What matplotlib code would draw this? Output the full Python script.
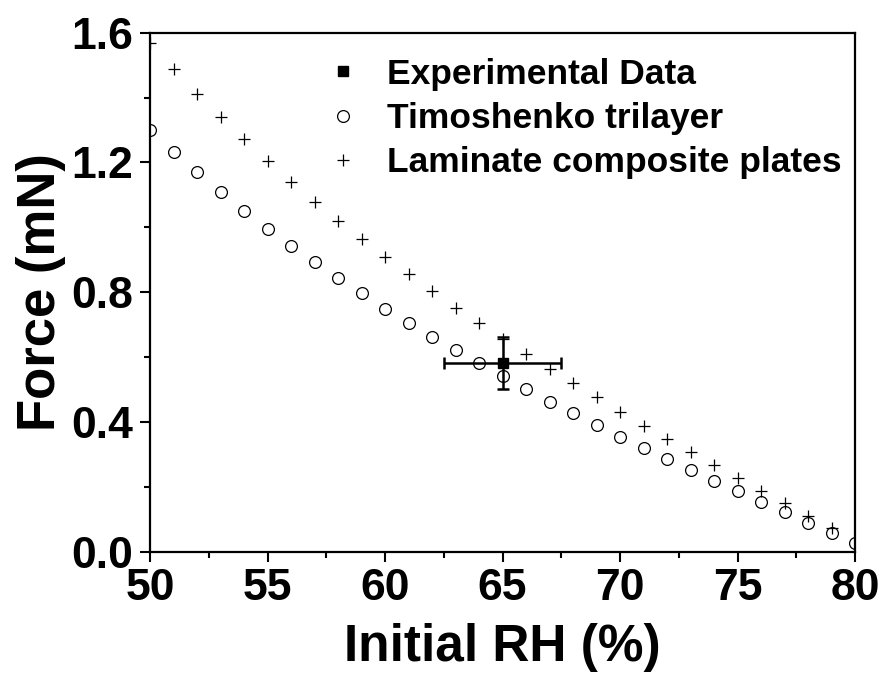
import numpy as np
import matplotlib
matplotlib.use("Agg")
import matplotlib.pyplot as plt
from matplotlib.lines import Line2D
from matplotlib.ticker import MultipleLocator

plt.rcParams['font.family'] = ['Liberation Sans', 'DejaVu Sans']
plt.rcParams['font.weight'] = 'bold'

# Timoshenko trilayer model (open circles)
rh_timo = np.arange(50, 81)
force_timo = [1.300, 1.233, 1.170, 1.109, 1.051, 0.996, 0.943, 0.892, 0.843, 0.796,
              0.748, 0.706, 0.661, 0.622, 0.581, 0.542, 0.502, 0.462, 0.427, 0.391,
              0.355, 0.321, 0.286, 0.252, 0.219, 0.187, 0.154, 0.121, 0.089, 0.059,
              0.026]

# Laminate composite plates model (plus markers)
rh_lam = np.arange(50, 80)
force_lam = [1.567, 1.487, 1.411, 1.339, 1.271, 1.203, 1.140, 1.079, 1.020, 0.964,
             0.908, 0.855, 0.803, 0.752, 0.704, 0.657, 0.609, 0.563, 0.519, 0.478,
             0.432, 0.388, 0.346, 0.308, 0.267, 0.226, 0.188, 0.149, 0.110, 0.072]

# Experimental point
rh_exp = [65]
force_exp = [0.581]
rh_err = [2.5]
force_err = [0.08]

labels = ['Experimental Data', 'Timoshenko trilayer', 'Laminate composite plates']

fig = plt.figure(figsize=(8.85, 6.75), dpi=100)
ax = fig.add_axes([150/885, 1-551.7/675, 705/885, 519/675])

ax.errorbar(rh_exp, force_exp, xerr=rh_err, yerr=force_err, fmt='s', color='black',
            markersize=7, elinewidth=1.8, capsize=4.5, capthick=1.8, zorder=3)
ax.plot(rh_timo, force_timo, 'o', markerfacecolor='none', markeredgecolor='black',
        markersize=8.5, markeredgewidth=0.9)
ax.plot(rh_lam, force_lam, '+', color='black', markersize=9, markeredgewidth=0.9)

ax.set_xlim(50, 80)
ax.set_ylim(0, 1.6)
ax.xaxis.set_major_locator(MultipleLocator(5))
ax.xaxis.set_minor_locator(MultipleLocator(2.5))
ax.yaxis.set_major_locator(MultipleLocator(0.4))
ax.yaxis.set_minor_locator(MultipleLocator(0.2))
ax.yaxis.set_major_formatter(plt.FormatStrFormatter('%.1f'))

for s in ax.spines.values():
    s.set_linewidth(1.6)
ax.tick_params(which='major', direction='out', length=7, width=1.5, labelsize=32)
ax.tick_params(which='minor', direction='out', length=4, width=1.5)
ax.tick_params(axis='x', which='major', pad=5)
ax.tick_params(axis='y', which='major', pad=5)

ax.set_xlabel('Initial RH (%)', fontsize=37, fontweight='bold', labelpad=10)
ax.set_ylabel('Force (mN)', fontsize=38, fontweight='bold', labelpad=4)

handles = [
    Line2D([], [], ls='none', marker='s', color='black', markersize=7),
    Line2D([], [], ls='none', marker='o', markerfacecolor='none', markeredgecolor='black',
           markersize=8.5, markeredgewidth=0.9),
    Line2D([], [], ls='none', marker='+', color='black', markersize=9, markeredgewidth=0.9),
]
leg = ax.legend(handles, labels, loc='upper left', bbox_to_anchor=(0.2285, 0.979),
                frameon=False, fontsize=25.5, handlelength=1.0, handletextpad=0.74,
                labelspacing=0.32, borderaxespad=0)
for t in leg.get_texts():
    t.set_fontweight('bold')

fig.savefig('out.png', dpi=100)
